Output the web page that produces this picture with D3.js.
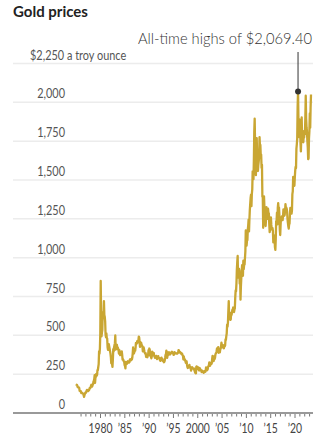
<!DOCTYPE html>
<html><head><meta charset="utf-8">
<script src="https://cdn.jsdelivr.net/npm/d3@7"></script>
<style>
html,body{margin:0;padding:0;background:#fff;}
svg{display:block;font-family:Lato,"Noto Sans",sans-serif;}
</style></head>
<body><svg id="c" width="334" height="448"></svg>
<script>
const startYear = 1975;
const prices = [
175,182,178,168,165,164,165,160,142,143,139,140,
128,132,129,128,126,123,113,104,116,123,131,134,
132,142,149,148,143,141,145,145,154,162,160,165,
175,182,181,170,183,183,200,208,217,243,194,226,
233,251,240,245,275,277,296,315,397,382,415,512,
850,637,494,517,536,650,614,631,720,630,619,589,
506,489,513,482,480,423,406,425,443,428,414,397,
384,362,320,350,317,297,342,411,397,424,437,448,
499,408,414,430,438,412,422,414,405,382,405,382,
373,394,394,374,397,374,343,347,341,333,329,309,
303,287,329,321,316,317,327,333,326,325,325,327,
345,339,346,340,343,345,357,384,423,401,383,391,
408,401,419,451,451,447,462,453,460,468,492,486,
458,426,457,448,451,437,436,427,397,412,422,410,
394,387,382,385,362,373,368,359,366,375,404,401,
415,408,369,367,363,352,362,395,389,381,381,386,
367,363,355,357,361,368,362,347,354,357,366,353,
354,353,341,336,337,343,357,340,349,339,334,333,
327,330,337,354,374,378,402,372,355,369,373,391,
377,381,390,376,387,386,384,386,394,389,384,383,
374,376,392,389,385,387,383,382,383,383,387,387,
405,404,396,393,391,385,383,387,379,381,371,369,
345,364,348,340,345,334,323,324,332,311,296,290,
302,297,301,310,293,296,289,273,294,292,294,288,
287,287,279,286,268,261,256,255,299,300,291,290,
283,293,279,274,278,288,277,278,273,264,270,272,
264,266,258,263,270,270,265,273,293,278,275,277,
282,297,301,308,326,318,304,313,324,316,319,347,
368,348,334,336,364,346,354,375,384,386,398,416,
400,398,424,388,393,395,391,408,416,429,453,438,
422,435,427,436,417,436,429,433,473,470,495,513,
568,556,582,655,720,613,632,623,599,604,646,632,
650,665,662,679,659,650,665,673,743,789,783,834,
923,971,1011,871,885,930,918,833,884,730,814,869,
919,952,916,883,980,926,955,955,996,1040,1175,1096,
1078,1109,1113,1180,1207,1245,1169,1246,1307,1346,1386,1405,
1332,1411,1439,1556,1536,1505,1628,1813,1895,1722,1746,1531,
1744,1770,1662,1651,1558,1598,1622,1648,1776,1719,1726,1657,
1664,1578,1598,1392,1394,1192,1314,1395,1326,1324,1253,1204,
1244,1326,1284,1288,1250,1315,1285,1285,1216,1164,1182,1206,
1260,1214,1183,1180,1190,1172,1098,1135,1114,1142,1068,1050,
1118,1234,1233,1290,1214,1320,1351,1309,1322,1272,1178,1146,
1212,1256,1245,1266,1266,1242,1269,1311,1283,1270,1275,1303,
1345,1318,1323,1315,1298,1250,1224,1202,1187,1214,1220,1279,
1321,1319,1295,1283,1305,1409,1427,1520,1485,1511,1463,1515,
1560,1585,1577,1702,1730,1768,1972,2069.4,1886,1879,1776,1888,
1850,1743,1684,1768,1903,1763,1813,1815,1743,1783,1774,1806,
1795,1901,2043,1896,1838,1817,1753,1711,1634,1640,1768,1812,
1928,1836,1969,2050
];
const yTicks = [0,250,500,750,1000,1250,1500,1750,2000,2250];
const yTickLabels = ["0","250","500","750","1,000","1,250","1,500","1,750","2,000","$2,250 a troy ounce"];
const xMajor = [1980,1985,1990,1995,2000,2005,2010,2015,2020];
const xMajorLabels = ["1980","\u201985","\u201990","\u201995","2000","\u201905","\u201910","\u201915","\u201920"];
const xMinorYears = d3.range(1976, 2024);
const title = "Gold prices";
const annotation = "All-time highs of $2,069.40";
const peakValue = 2069.4;

const data = prices.map((v,i)=>({t:startYear + (i+0.5)/12, v}));
const svg = d3.select("#c");
const x = d3.scaleLinear().domain([1980,2020]).range([100.5,295]);
const y = d3.scaleLinear().domain([0,2250]).range([413,63.5]);
const gl = 13, gr = 313;

svg.append("text").attr("x",13).attr("y",17).text(title)
  .attr("font-weight",700).attr("font-size",15).attr("fill","#222");

// gridlines
svg.append("g").selectAll("line").data(yTicks.slice(1)).join("line")
  .attr("x1",gl).attr("x2",gr).attr("y1",d=>y(d)).attr("y2",d=>y(d))
  .attr("stroke","#ececec").attr("stroke-width",1.5);

// y labels (condensed via horizontal scale)
svg.append("g").selectAll("text").data(yTicks).join("text")
  .attr("transform",(d,i)=>`translate(${i===yTicks.length-1?30:65},${y(d)-4}) scale(0.84,1)`)
  .attr("text-anchor",(d,i)=> i===yTicks.length-1 ? "start":"end")
  .attr("font-size",13).attr("fill","#555")
  .text((d,i)=>yTickLabels[i]);

// x axis
const ax = svg.append("g").attr("transform","translate(0,413)");
ax.append("line").attr("x1",gl).attr("x2",gr).attr("stroke","#999").attr("stroke-width",2);
ax.selectAll("line.minor").data(xMinorYears).join("line").attr("class","minor")
  .attr("x1",d=>x(d)).attr("x2",d=>x(d)).attr("y1",1).attr("y2",d=>d%5===0?5:3.5)
  .attr("stroke","#777").attr("stroke-width",1);
ax.selectAll("text").data(xMajor).join("text")
  .attr("transform",d=>`translate(${x(d)},20) scale(0.8,1)`).attr("text-anchor","middle")
  .attr("font-size",13).attr("fill","#444")
  .text((d,i)=>xMajorLabels[i]);

// line
const line = d3.line().x(d=>x(d.t)).y(d=>y(d.v));
svg.append("path").datum(data).attr("d",line)
  .attr("fill","none").attr("stroke","#c9a633").attr("stroke-width",2.3).attr("stroke-linejoin","round");

// annotation
const peak = data.find(d=>d.v===peakValue);
svg.append("line").attr("x1",x(peak.t)).attr("x2",x(peak.t)).attr("y1",52).attr("y2",y(peak.v))
  .attr("stroke","#333").attr("stroke-width",1);
svg.append("circle").attr("cx",x(peak.t)).attr("cy",y(peak.v)).attr("r",3).attr("fill","#333");
svg.append("text").attr("transform","translate(312,44) scale(0.92,1)").attr("text-anchor","end")
  .attr("font-size",16).attr("font-weight",300).attr("fill","#333").text(annotation);
</script></body></html>
